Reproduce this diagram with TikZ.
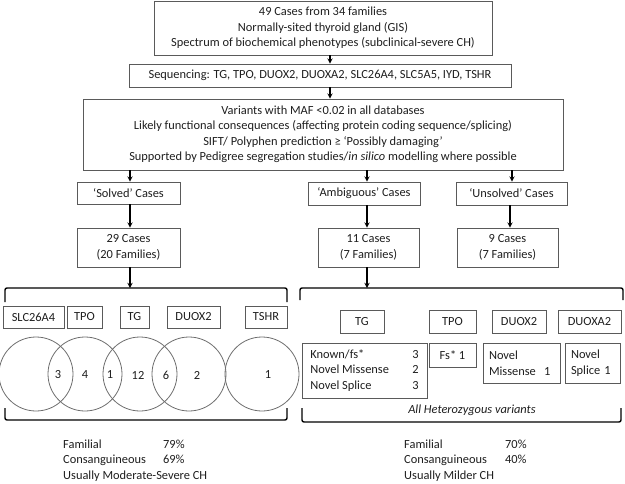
\documentclass[tikz,border=0pt]{standalone}
\usepackage{fontspec}
\setmainfont{Carlito}
\usepackage{xcolor}
\usepackage{tikz}
\usetikzlibrary{calc}
\definecolor{boxline}{HTML}{5A5A5A}
\definecolor{ink}{HTML}{1E1E1E}
\definecolor{ringline}{HTML}{6E6E6E}
\newcommand{\FlowFont}{\fontsize{12.4}{15.5}\selectfont}

\begin{document}
\begin{tikzpicture}[x=1pt,y=-1pt,
    box/.style={draw=boxline,line width=0.8pt,inner sep=0pt,align=center,text=ink,font=\FlowFont},
    arr/.style={->,>=stealth,line width=1.3pt,black},
    brk/.style={line width=1.4pt,black,rounded corners=2pt},
    venn/.style={draw=ringline,line width=0.8pt}]
  \useasboundingbox (0,0) rectangle (625,483);
  % flow at the top
  \node[box,minimum width=338,minimum height=54] (cases) at (323,28)
    {49 Cases from 34 families\\Normally-sited thyroid gland (GIS)\\Spectrum of biochemical phenotypes (subclinical-severe CH)};
  \node[box,minimum width=382,minimum height=23] (seq) at (320,75.5)
    {Sequencing: TG, TPO, DUOX2, DUOXA2, SLC26A4, SLC5A5, IYD, TSHR};
  \node[box,minimum width=480,minimum height=71] (var) at (323,134.5)
    {Variants with MAF <0.02 in all databases\\
     Likely functional consequences (affecting protein coding sequence/splicing)\\
     SIFT/ Polyphen prediction ≥ `Possibly damaging'\\
     Supported by Pedigree segregation studies/\textit{in silico} modelling where possible};
  \draw[arr] (cases.south -| 330,0) -- (seq.north -| 330,0);
  \draw[arr] (seq.south -| 330,0) -- (var.north -| 330,0);
  % three groups
  \node[box,minimum width=103,minimum height=22] (solved) at (128.5,193) {`Solved' Cases};
  \node[box,minimum width=112,minimum height=23] (ambig) at (364,193.5) {`Ambiguous' Cases};
  \node[box,minimum width=111,minimum height=23] (unsolved) at (511.5,193.5) {`Unsolved' Cases};
  \node[box,minimum width=103,minimum height=39] (c29) at (128.5,247.5) {29 Cases\\(20 Families)};
  \node[box,minimum width=101,minimum height=39] (c11) at (368.5,247.5) {11 Cases\\(7 Families)};
  \node[box,minimum width=101,minimum height=39] (c9) at (507.5,247.5) {9 Cases\\(7 Families)};
  \draw[arr] (var.south -| 130,0) -- (solved.north -| 130,0);
  \draw[arr] (var.south -| 367,0) -- (ambig.north -| 367,0);
  \draw[arr] (var.south -| 512,0) -- (unsolved.north -| 512,0);
  \draw[arr] (solved.south -| 130,0) -- (c29.north -| 130,0);
  \draw[arr] (ambig.south -| 367,0) -- (c11.north -| 367,0);
  \draw[arr] (unsolved.south -| 510,0) -- (c9.north -| 510,0);
  % brackets
  \coordinate (lbr) at (146,288);
  \coordinate (rbr) at (461,288);
  \draw[arr] (c29.south -| 130,0) -- (lbr -| 130,0);
  \draw[arr] (c11.south -| 367,0) -- (rbr -| 367,0);
  \draw[brk] (5,302) |- (lbr) -| (287,302);
  \draw[brk] (300,300) |- (rbr) -| (623,300);
  \draw[brk] (5,408) |- (146,420) -| (287,408);
  \draw[brk] (302,408) |- (461,422) -| (621,408);
  % solved genes
  \foreach \nm/\cx/\w/\txt in {slc/33.5/61/SLC26A4,tpoS/84.5/35/TPO,tgS/134.5/29/TG,duoxS/193.5/53/DUOX2,tshr/266/42/TSHR}
    \node[box,minimum width=\w,minimum height=22] (\nm) at (\cx,317) {\txt};
  \foreach \cx in {36,85,140,189,262}
    \draw[venn] (\cx,374) circle (37);
  \foreach \lx/\lt [count=\i] in {58/3,85/4,110/1,138/12,166/6,197/2,268/1}
    \node[text=ink,font=\FlowFont] (vn\i) at (\lx,375) {\lt};
  % ambiguous genes
  \foreach \nm/\cx/\w/\txt in {tgA/362/44/TG,tpoA/452.5/47/TPO,duoxA/519/54/DUOX2,duoxaA/589.5/63/DUOXA2}
    \node[box,minimum width=\w,minimum height=23] (\nm) at (\cx,321.5) {\txt};
  \node[box,minimum width=125,minimum height=55] (tgvar) at (364.5,370.5)
    {\begin{tabular}{@{}p{102pt}@{}l@{}}Known/fs* & 3\\Novel Missense & 2\\Novel Splice & 3\end{tabular}};
  \node[box,minimum width=47,minimum height=24] (tpovar) at (452.5,355) {Fs* 1};
  \node[box,align=left,text width=65,inner xsep=6,minimum height=40] (duoxvar) at (521.5,363) {Novel\\Missense\ \ 1};
  \node[box,align=left,text width=43,inner xsep=6,minimum height=40] (duoxavar) at (592.5,363) {Novel\\Splice 1};
  \node[text=ink,font=\FlowFont\itshape] (hetero) at (472,410) {All Heterozygous variants};
  % summaries
  \node[anchor=north west,inner sep=0pt,text=ink,font=\FlowFont] (sumL) at (63,437)
    {\begin{tabular}{@{}p{100pt}@{}l@{}}Familial & 79\%\\Consanguineous & 69\%\\\multicolumn{2}{@{}l@{}}{Usually Moderate-Severe CH}\end{tabular}};
  \node[anchor=north west,inner sep=0pt,text=ink,font=\FlowFont] (sumR) at (404,437)
    {\begin{tabular}{@{}p{101pt}@{}l@{}}Familial & 70\%\\Consanguineous & 40\%\\\multicolumn{2}{@{}l@{}}{Usually Milder CH}\end{tabular}};
\end{tikzpicture}
\end{document}
